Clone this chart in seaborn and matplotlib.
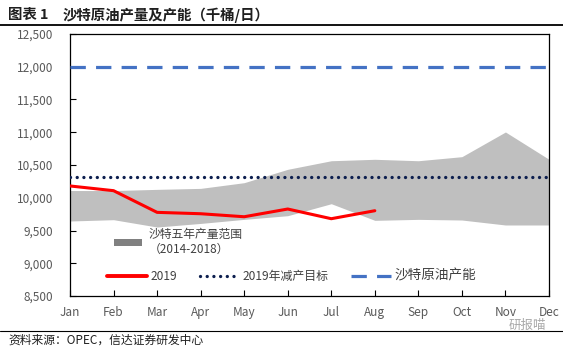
import matplotlib
matplotlib.use("Agg")
import matplotlib.pyplot as plt
import seaborn as sns
import numpy as np
import pandas as pd
from matplotlib.patches import Patch
from matplotlib.lines import Line2D
from matplotlib.ticker import FuncFormatter

sns.set_theme(style="white")
plt.rcParams['font.family'] = ['Noto Sans CJK SC', 'DejaVu Sans']

months = ["Jan", "Feb", "Mar", "Apr", "May", "Jun", "Jul", "Aug", "Sep", "Oct", "Nov", "Dec"]
range_low = [9645, 9665, 9553, 9608, 9670, 9726, 9909, 9655, 9670, 9660, 9584, 9584]
range_high = [10110, 10110, 10128, 10143, 10230, 10434, 10565, 10587, 10565, 10627, 11004, 10587]
prod_2019 = [10180, 10108, 9777, 9756, 9710, 9828, 9680, 9802]
target_2019 = [10311] * 12
capacity = [12000] * 12

x_all = np.arange(len(months))
df19 = pd.DataFrame({"x": x_all[:len(prod_2019)], "v": prod_2019})
dft = pd.DataFrame({"x": x_all, "v": target_2019})
dfc = pd.DataFrame({"x": x_all, "v": capacity})

DOT = (0, (0.01, 2.0))
DASH = (0, (4.8, 3.2))

fig = plt.figure(figsize=(5.63, 3.49), dpi=100)
ax = fig.add_axes([70/563, 1 - 296/349, (549-70)/563, (296-34)/349])

ax.fill_between(x_all, range_low, range_high, color="#bfbfbf", linewidth=0, zorder=1)
sns.lineplot(data=df19, x="x", y="v", ax=ax, color="#ff0000", linewidth=2.2, zorder=3)
sns.lineplot(data=dft, x="x", y="v", ax=ax, color="#0d1f4f", linewidth=2.4,
             linestyle=DOT, dash_capstyle="round", zorder=4)
sns.lineplot(data=dfc, x="x", y="v", ax=ax, color="#4472c4", linewidth=2.3,
             linestyle=DASH, zorder=4)

ax.set_xlim(0, 11)
ax.set_ylim(8500, 12500)
ax.set_yticks(np.arange(8500, 12501, 500))
ax.yaxis.set_major_formatter(FuncFormatter(lambda v, p: f"{int(v):,}"))
ax.set_xticks(x_all)
ax.set_xticklabels(months)
ax.set_xlabel("")
ax.set_ylabel("")
for s in ax.spines.values():
    s.set_color("black")
    s.set_linewidth(0.9)
ax.tick_params(axis="y", direction="in", length=4, width=0.8, color="black",
               labelsize=8.5, labelcolor="#595959", pad=12, left=True)
ax.tick_params(axis="x", direction="in", length=4, width=0.8, color="black",
               labelsize=8.5, labelcolor="#595959", pad=7, bottom=True)

# legends
leg1 = ax.legend(handles=[Patch(facecolor="#808080", edgecolor="none")],
                 labels=["沙特五年产量范围\n（2014-2018）"],
                 loc="upper left", bbox_to_anchor=(0.083, 0.28), frameon=False,
                 fontsize=8.5, handlelength=2.3, handleheight=0.55, labelcolor="#404040",
                 borderaxespad=0, handletextpad=0.6)
ax.add_artist(leg1)
handles = [Line2D([], [], color="#ff0000", linewidth=2.8),
           Line2D([], [], color="#0d1f4f", linewidth=2.4, linestyle=DOT, dash_capstyle="round"),
           Line2D([], [], color="#4472c4", linewidth=2.3, linestyle=DASH)]
leg2 = ax.legend(handles=handles, labels=["2019", "2019年减产目标", "沙特原油产能"],
                 loc="center left", bbox_to_anchor=(0.068, 0.077), frameon=False, ncol=3,
                 fontsize=8.6, handlelength=3.3, labelcolor="#404040", columnspacing=1.9,
                 handletextpad=0.3, borderaxespad=0)
leg2.get_texts()[2].set_fontsize(9.8)

# title and footer
fig.text(8/563, 1 - 15/349, "图表 1", fontsize=10.4,
         fontweight="bold", color="#1f1f1f", va="center", ha="left")
fig.text(63/563, 1 - 15/349, "沙特原油产量及产能（千桶/日）", fontsize=10.4,
         fontweight="bold", color="#1f1f1f", va="center", ha="left")
fig.add_artist(Line2D([0, 1], [1 - 25/349, 1 - 25/349], color="black", linewidth=1.3))
fig.add_artist(Line2D([0, 1], [1 - 331/349, 1 - 331/349], color="black", linewidth=0.8))
fig.text(8/563, 1 - 340/349, "资料来源：OPEC，信达证券研发中心", fontsize=8.5,
         style="italic", color="#1f1f1f", va="center", ha="left")
fig.text(546/563, 1 - 325/349, "研报喵", fontsize=9, color="#a8a8a8", va="center", ha="right")

fig.savefig("out.png", dpi=100)
